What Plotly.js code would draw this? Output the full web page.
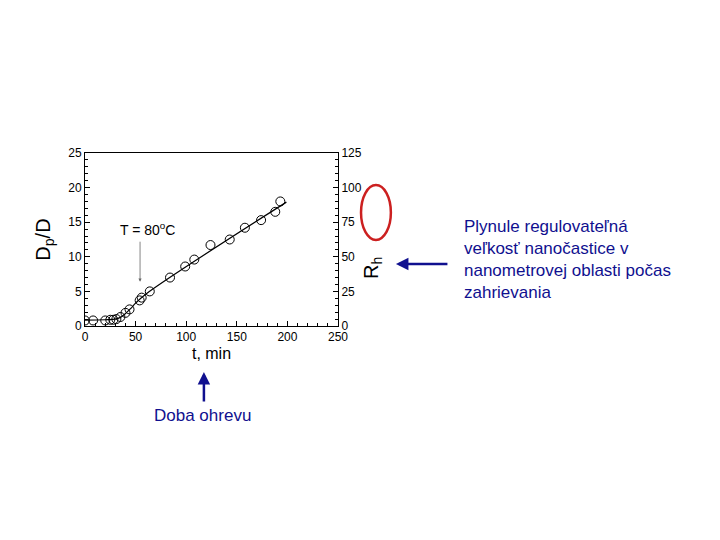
<!DOCTYPE html>
<html>
<head>
<meta charset="utf-8">
<script src="https://cdn.plot.ly/plotly-3.0.1.min.js"></script>
<style>html,body{margin:0;padding:0;background:#fff;}#chart{width:720px;height:540px;}</style>
</head>
<body>
<div id="chart"></div>
<script>
// measured data: time (min) vs Dp/D
var timeMin = [0, 8, 20, 25, 28, 31, 35, 40, 44, 54, 56, 64, 84, 99, 108, 124, 143, 158, 174, 188, 193];
var dpRatio = [0.8, 0.8, 0.8, 0.9, 0.9, 1.0, 1.3, 1.9, 2.4, 3.7, 4.1, 5.0, 7.0, 8.6, 9.6, 11.7, 12.5, 14.2, 15.3, 16.5, 18.0];
// guide (fit) curve
var fitTime = [0, 20, 30, 35, 40, 45, 50, 60, 199];
var fitRatio = [0.85, 0.9, 1.0, 1.25, 1.8, 2.5, 3.3, 4.6, 17.9];
var xTicks = [0, 50, 100, 150, 200, 250];
var yTicks = [0, 5, 10, 15, 20, 25];
var y2Ticks = [0, 25, 50, 75, 100, 125];

var blue = '#10108f';
var tickFont = {family: 'Liberation Sans Narrow, Liberation Sans, Arial, sans-serif', size: 12, color: '#000'};

var traces = [
  {x: fitTime, y: fitRatio, mode: 'lines', line: {color: '#000', width: 1.2, shape: 'spline'}, hoverinfo: 'skip', showlegend: false},
  {x: timeMin, y: dpRatio, mode: 'markers', marker: {symbol: 'circle-open', size: 9, color: '#000', line: {width: 1, color: '#000'}}, showlegend: false},
  {x: [], y: [], yaxis: 'y2', mode: 'markers', hoverinfo: 'skip', showlegend: false}
];

var layout = {
  width: 720, height: 540,
  margin: {l: 85, r: 382, t: 153, b: 214},
  paper_bgcolor: '#fff', plot_bgcolor: '#fff',
  showlegend: false,
  font: {family: 'Liberation Sans, Arial, sans-serif', color: '#000'},
  xaxis: {
    range: [0, 250], tickvals: xTicks, ticktext: xTicks.map(String),
    showline: true, linecolor: '#000', linewidth: 1, mirror: true,
    ticks: 'inside', ticklen: 5, tickcolor: '#000',
    minor: {ticks: 'inside', ticklen: 3, dtick: 10, tickcolor: '#000'},
    showgrid: false, zeroline: false, tickfont: tickFont,
    title: {text: 't, min', font: {size: 16, family: 'Liberation Sans, Arial, sans-serif'}, standoff: 4}
  },
  yaxis: {
    range: [0, 25], tickvals: yTicks, ticktext: yTicks.map(String),
    showline: true, linecolor: '#000', linewidth: 1,
    ticks: 'inside', ticklen: 5, tickcolor: '#000',
    minor: {ticks: 'inside', ticklen: 3, dtick: 1, tickcolor: '#000'},
    showgrid: false, zeroline: false, tickfont: tickFont,
    title: {text: 'D<sub>p</sub>/D', font: {size: 20, family: 'Liberation Sans, Arial, sans-serif'}, standoff: 12}
  },
  yaxis2: {
    overlaying: 'y', side: 'right', anchor: 'x',
    range: [0, 125], autorange: false, tickvals: y2Ticks, ticktext: y2Ticks.map(String),
    showline: true, linecolor: '#000', linewidth: 1,
    ticks: 'inside', ticklen: 5, tickcolor: '#000',
    minor: {ticks: 'inside', ticklen: 3, dtick: 5, tickcolor: '#000'},
    showgrid: false, zeroline: false, tickfont: tickFont
  },
  shapes: [
    {type: 'circle', xref: 'paper', yref: 'paper', x0: 1.091, x1: 1.209, y0: 0.497, y1: 0.815,
     line: {color: '#cc2020', width: 2.5}, fillcolor: 'rgba(0,0,0,0)'}
  ],
  annotations: [
    {x: 1.134, y: 0.335, xref: 'paper', yref: 'paper', xanchor: 'center', yanchor: 'middle', textangle: -90,
     text: 'R<sub>h</sub>', showarrow: false, font: {size: 20, family: 'Liberation Sans, Arial, sans-serif', color: '#000'}},
    {x: 62, y: 14, xref: 'x', yref: 'y', text: 'T = 80<sup>o</sup>C', showarrow: false,
     font: {size: 14, family: 'Liberation Sans Narrow, Liberation Sans, Arial, sans-serif', color: '#000'}},
    {x: 54.4, y: 6.4, xref: 'x', yref: 'y', ax: 54.4, ay: 12.4, axref: 'x', ayref: 'y', text: '',
     showarrow: true, arrowhead: 2, arrowsize: 0.8, arrowwidth: 0.8, arrowcolor: '#666'},
    {x: 1.229, y: 0.358, xref: 'paper', yref: 'paper', ax: 53, ay: 0, text: '',
     showarrow: true, arrowhead: 2, arrowsize: 1, arrowwidth: 2.5, arrowcolor: blue},
    {x: 0.470, y: -0.266, xref: 'paper', yref: 'paper', ax: 0, ay: 31, text: '',
     showarrow: true, arrowhead: 2, arrowsize: 1, arrowwidth: 2.5, arrowcolor: blue},
    {x: 0.466, y: -0.520, xref: 'paper', yref: 'paper', xanchor: 'center', yanchor: 'middle', text: 'Doba ohrevu', showarrow: false,
     font: {size: 17, family: 'Liberation Sans, Arial, sans-serif', color: blue}},
    {x: 1.490, y: 0.387, xref: 'paper', yref: 'paper', xanchor: 'left', yanchor: 'middle', align: 'left',
     text: 'Plynule regulovateľná<br>veľkosť nanočastice v<br>nanometrovej oblasti počas<br>zahrievania',
     showarrow: false, font: {size: 17, family: 'Liberation Sans, Arial, sans-serif', color: blue}}
  ]
};

Plotly.newPlot('chart', traces, layout, {displayModeBar: false, staticPlot: true});
</script>
</body>
</html>
